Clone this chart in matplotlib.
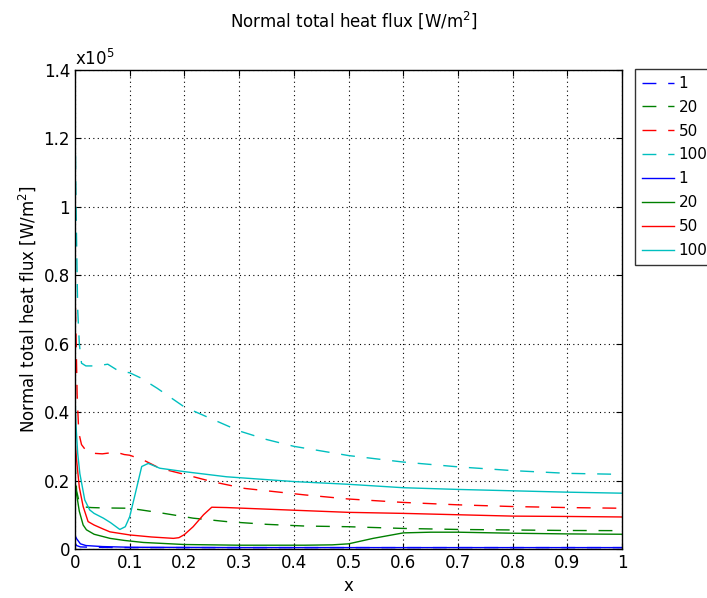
import matplotlib
matplotlib.use("Agg")
from matplotlib import pyplot as plt
from matplotlib.ticker import FormatStrFormatter, MultipleLocator
import numpy as np

plt.rcParams['font.family'] = ['DejaVu Sans']
plt.rcParams['font.size'] = 11

# heat flux values in units of 1e5 W/m^2
labels = ["1", "20", "50", "100"]
colors = ["#0000ff", "#008000", "#ff0000", "#00bfbf"]

# dashed series
x_d1 = [0, 0.003, 0.01, 0.03, 0.1, 0.3, 0.5, 0.7, 1.0]
y_d1 = [0.018, 0.010, 0.006, 0.005, 0.004, 0.004, 0.004, 0.004, 0.004]

x_d20 = [0, 0.003, 0.008, 0.015, 0.03, 0.05, 0.1, 0.155, 0.216, 0.277, 0.35, 0.42,
         0.5, 0.6, 0.7, 0.8, 0.9, 1.0]
y_d20 = [0.26, 0.17, 0.135, 0.123, 0.121, 0.12, 0.119, 0.106, 0.09, 0.08, 0.072, 0.067,
         0.065, 0.06, 0.057, 0.0555, 0.054, 0.0535]

x_d50 = [0, 0.002, 0.004, 0.007, 0.012, 0.02, 0.03, 0.05, 0.075, 0.09, 0.1, 0.125,
         0.155, 0.2, 0.25, 0.31, 0.42, 0.5, 0.6, 0.7, 0.8, 0.9, 1.0]
y_d50 = [0.78, 0.62, 0.45, 0.34, 0.305, 0.288, 0.28, 0.278, 0.283, 0.276, 0.274, 0.26,
         0.236, 0.218, 0.197, 0.177, 0.158, 0.146, 0.136, 0.129, 0.124, 0.121, 0.119]

x_d100 = [0, 0.002, 0.005, 0.008, 0.012, 0.02, 0.04, 0.06, 0.08, 0.1, 0.12, 0.15,
          0.2, 0.25, 0.3, 0.35, 0.4, 0.5, 0.6, 0.7, 0.8, 0.9, 1.0]
y_d100 = [1.30, 1.0, 0.70, 0.60, 0.543, 0.535, 0.535, 0.54, 0.52, 0.515, 0.50, 0.47,
          0.415, 0.38, 0.345, 0.32, 0.30, 0.273, 0.254, 0.24, 0.229, 0.221, 0.218]

# solid series
x_s1 = [0, 0.003, 0.01, 0.02, 0.05, 0.1, 0.3, 0.6, 1.0]
y_s1 = [0.04, 0.03, 0.015, 0.01, 0.007, 0.005, 0.004, 0.004, 0.004]

x_s20 = [0, 0.003, 0.008, 0.015, 0.021, 0.035, 0.052, 0.064, 0.09, 0.125, 0.2, 0.3,
         0.42, 0.47, 0.5, 0.545, 0.6, 0.65, 0.7, 0.8, 0.9, 1.0]
y_s20 = [0.2, 0.16, 0.11, 0.07, 0.056, 0.043, 0.036, 0.031, 0.025, 0.019, 0.013, 0.011,
         0.011, 0.012, 0.015, 0.031, 0.047, 0.049, 0.049, 0.046, 0.044, 0.043]

x_s50 = [0, 0.003, 0.008, 0.015, 0.024, 0.035, 0.052, 0.064, 0.1, 0.14, 0.18, 0.19,
         0.2, 0.216, 0.235, 0.25, 0.277, 0.42, 0.5, 0.6, 0.7, 0.8, 0.9, 1.0]
y_s50 = [0.32, 0.26, 0.18, 0.124, 0.08, 0.07, 0.058, 0.05, 0.041, 0.035, 0.031, 0.033,
         0.042, 0.065, 0.1, 0.122, 0.121, 0.112, 0.107, 0.104, 0.1, 0.096, 0.095, 0.0935]

x_s100 = [0, 0.002, 0.005, 0.009, 0.018, 0.027, 0.035, 0.052, 0.065, 0.082, 0.092,
          0.1, 0.11, 0.122, 0.134, 0.155, 0.2, 0.277, 0.4, 0.5, 0.6, 0.7, 0.8, 0.9, 1.0]
y_s100 = [0.45, 0.36, 0.28, 0.22, 0.143, 0.114, 0.104, 0.09, 0.077, 0.057, 0.065,
          0.094, 0.16, 0.241, 0.25, 0.236, 0.226, 0.211, 0.197, 0.189, 0.179, 0.174,
          0.170, 0.166, 0.163]

dashed = [(x_d1, y_d1), (x_d20, y_d20), (x_d50, y_d50), (x_d100, y_d100)]
solid = [(x_s1, y_s1), (x_s20, y_s20), (x_s50, y_s50), (x_s100, y_s100)]

fig = plt.figure(figsize=(7.07, 5.98), dpi=100)
ax = fig.add_axes([0.106, 0.082, 0.774, 0.801])

for (x, y), c, lab in zip(dashed, colors, labels):
    ax.plot(x, y, color=c, lw=1, ls=(0, (10, 8.5)), label=lab)
for (x, y), c, lab in zip(solid, colors, labels):
    ax.plot(x, y, color=c, lw=1, label=lab)

ax.set_xlim(0, 1)
ax.set_ylim(0, 1.4)
ax.xaxis.set_major_locator(MultipleLocator(0.1))
ax.yaxis.set_major_locator(MultipleLocator(0.2))
ax.xaxis.set_major_formatter(FormatStrFormatter('%g'))
ax.yaxis.set_major_formatter(FormatStrFormatter('%g'))
ax.tick_params(direction='in', top=True, right=True, labelsize=12, length=4)
ax.grid(True, color='black', ls=(0, (1, 3)), lw=0.8)
for sp in ax.spines.values():
    sp.set_linewidth(1)

ax.text(0, 1.003, "x10$^5$", transform=ax.transAxes, fontsize=12,
        ha='left', va='bottom')
ax.set_xlabel("x", fontsize=12)
ax.set_ylabel("Normal total heat flux [W/m$^2$]", fontsize=12)
fig.suptitle("Normal total heat flux [W/m$^2$]", fontsize=12, y=0.984)

leg = fig.legend(*ax.get_legend_handles_labels(), loc='upper left',
                 bbox_to_anchor=(635 / 707, 1 - 69 / 598), fontsize=11,
                 frameon=True, fancybox=False, edgecolor='black',
                 handlelength=2.1, handletextpad=0.3, labelspacing=0.58,
                 borderpad=0.45, borderaxespad=0)
leg.get_frame().set_linewidth(1)

fig.savefig("out.png", dpi=100)
